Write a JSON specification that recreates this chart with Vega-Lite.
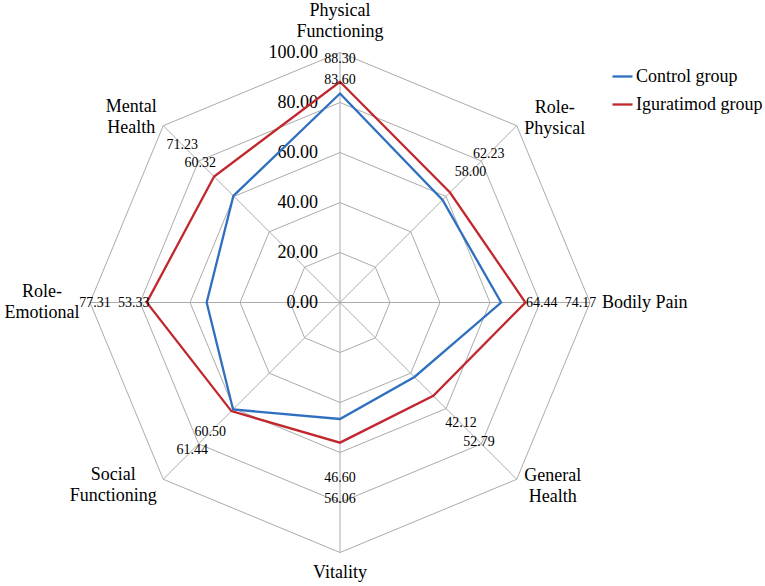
{
  "$schema": "https://vega.github.io/schema/vega-lite/v6.json",
  "width": 765,
  "height": 586,
  "padding": 0,
  "autosize": {"type": "none"},
  "config": {
    "view": {"stroke": null},
    "font": "Liberation Serif, Times New Roman, serif",
    "text": {"font": "Liberation Serif, Times New Roman, serif", "color": "#000000"}
  },
  "datasets": {
    "scores": [
      {"axis": "Physical Functioning", "k": 0, "group": "Control group", "value": 83.60},
      {"axis": "Role-Physical", "k": 1, "group": "Control group", "value": 58.00},
      {"axis": "Bodily Pain", "k": 2, "group": "Control group", "value": 64.44},
      {"axis": "General Health", "k": 3, "group": "Control group", "value": 42.12},
      {"axis": "Vitality", "k": 4, "group": "Control group", "value": 46.60},
      {"axis": "Social Functioning", "k": 5, "group": "Control group", "value": 60.50},
      {"axis": "Role-Emotional", "k": 6, "group": "Control group", "value": 53.33},
      {"axis": "Mental Health", "k": 7, "group": "Control group", "value": 60.32},
      {"axis": "Physical Functioning", "k": 0, "group": "Iguratimod group", "value": 88.30},
      {"axis": "Role-Physical", "k": 1, "group": "Iguratimod group", "value": 62.23},
      {"axis": "Bodily Pain", "k": 2, "group": "Iguratimod group", "value": 74.17},
      {"axis": "General Health", "k": 3, "group": "Iguratimod group", "value": 52.79},
      {"axis": "Vitality", "k": 4, "group": "Iguratimod group", "value": 56.06},
      {"axis": "Social Functioning", "k": 5, "group": "Iguratimod group", "value": 61.44},
      {"axis": "Role-Emotional", "k": 6, "group": "Iguratimod group", "value": 77.31},
      {"axis": "Mental Health", "k": 7, "group": "Iguratimod group", "value": 71.23}
    ],
    "axes": [
      {"k": 0, "label": "Physical\nFunctioning"},
      {"k": 1, "label": "Role-\nPhysical"},
      {"k": 2, "label": "Bodily Pain"},
      {"k": 3, "label": "General\nHealth"},
      {"k": 4, "label": "Vitality"},
      {"k": 5, "label": "Social\nFunctioning"},
      {"k": 6, "label": "Role-\nEmotional"},
      {"k": 7, "label": "Mental\nHealth"}
    ],
    "levels": [
      {"level": 0, "k": [0, 1, 2, 3, 4, 5, 6, 7]},
      {"level": 20, "k": [0, 1, 2, 3, 4, 5, 6, 7]},
      {"level": 40, "k": [0, 1, 2, 3, 4, 5, 6, 7]},
      {"level": 60, "k": [0, 1, 2, 3, 4, 5, 6, 7]},
      {"level": 80, "k": [0, 1, 2, 3, 4, 5, 6, 7]},
      {"level": 100, "k": [0, 1, 2, 3, 4, 5, 6, 7]}
    ]
  },
  "encoding": {
    "x": {"field": "px", "type": "quantitative", "axis": null, "scale": {"domain": [-136, 170], "nice": false, "zero": false}},
    "y": {"field": "py", "type": "quantitative", "axis": null, "scale": {"domain": [-113.4, 121], "nice": false, "zero": false}}
  },
  "layer": [
    {
      "data": {"name": "levels"},
      "transform": [
        {"filter": "datum.level > 0"},
        {"flatten": ["k"]},
        {"calculate": "datum.k * PI / 4", "as": "angle"},
        {"calculate": "datum.level * sin(datum.angle)", "as": "px"},
        {"calculate": "datum.level * cos(datum.angle)", "as": "py"}
      ],
      "mark": {"type": "line", "interpolate": "linear-closed", "color": "#ABABAB", "strokeWidth": 1},
      "encoding": {
        "detail": {"field": "level", "type": "nominal"},
        "order": {"field": "k", "type": "quantitative"}
      }
    },
    {
      "data": {"name": "axes"},
      "transform": [
        {"calculate": "datum.k * PI / 4", "as": "angle"},
        {"calculate": "100 * sin(datum.angle)", "as": "px"},
        {"calculate": "100 * cos(datum.angle)", "as": "py"},
        {"calculate": "0", "as": "ox"},
        {"calculate": "0", "as": "oy"}
      ],
      "mark": {"type": "rule", "color": "#ABABAB", "strokeWidth": 1},
      "encoding": {
        "x2": {"field": "ox"},
        "y2": {"field": "oy"}
      }
    },
    {
      "data": {"name": "levels"},
      "transform": [
        {"calculate": "0", "as": "px"},
        {"calculate": "datum.level", "as": "py"}
      ],
      "mark": {"type": "text", "align": "right", "baseline": "middle", "dx": -22, "fontSize": 18},
      "encoding": {
        "text": {"field": "level", "type": "quantitative", "format": ".2f"}
      }
    },
    {
      "data": {"name": "scores"},
      "transform": [
        {"calculate": "datum.k * PI / 4", "as": "angle"},
        {"calculate": "datum.value * sin(datum.angle)", "as": "px"},
        {"calculate": "datum.value * cos(datum.angle)", "as": "py"}
      ],
      "mark": {"type": "line", "interpolate": "linear-closed", "strokeWidth": 2.3},
      "encoding": {
        "color": {
          "field": "group", "type": "nominal",
          "scale": {"domain": ["Control group", "Iguratimod group"], "range": ["#2F6FBF", "#C0282E"]},
          "legend": {
            "title": null, "orient": "none", "legendX": 611, "legendY": 65,
            "labelFont": "Liberation Serif, Times New Roman, serif", "labelFontSize": 18, "labelColor": "#000000",
            "labelLimit": 300, "symbolType": "stroke", "symbolSize": 400, "symbolStrokeWidth": 2.3,
            "labelOffset": 2, "rowPadding": 7
          }
        },
        "order": {"field": "k", "type": "quantitative"}
      }
    },
    {
      "data": {"name": "scores"},
      "transform": [
        {"joinaggregate": [{"op": "max", "field": "value", "as": "vmax"}], "groupby": ["k"]},
        {"calculate": "datum.k * PI / 4", "as": "angle"},
        {"calculate": "38 + 0.576 * datum.vmax + (datum.group == 'Iguratimod group' ? 8.5 + 7 * pow(sin(datum.angle), 4) : 0)", "as": "lr"},
        {"calculate": "datum.lr * sin(datum.angle)", "as": "px"},
        {"calculate": "datum.lr * cos(datum.angle)", "as": "py"}
      ],
      "mark": {"type": "text", "align": "center", "baseline": "middle", "fontSize": 14},
      "encoding": {
        "text": {"field": "value", "type": "quantitative", "format": ".2f"}
      }
    },
    {
      "data": {"name": "axes"},
      "transform": [
        {"filter": "datum.k == 0"},
        {"calculate": "0", "as": "px"},
        {"calculate": "100", "as": "py"}
      ],
      "mark": {"type": "text", "align": "center", "baseline": "middle", "fontSize": 18, "lineBreak": "\n", "lineHeight": 21, "dy": -41.5},
      "encoding": {"text": {"field": "label", "type": "nominal"}}
    },
    {
      "data": {"name": "axes"},
      "transform": [
        {"filter": "datum.k == 1"},
        {"calculate": "100 * sin(datum.k * PI / 4)", "as": "px"},
        {"calculate": "100 * cos(datum.k * PI / 4)", "as": "py"}
      ],
      "mark": {"type": "text", "align": "center", "baseline": "middle", "fontSize": 18, "lineBreak": "\n", "lineHeight": 21, "dx": 38, "dy": -18},
      "encoding": {"text": {"field": "label", "type": "nominal"}}
    },
    {
      "data": {"name": "axes"},
      "transform": [
        {"filter": "datum.k == 2"},
        {"calculate": "100", "as": "px"},
        {"calculate": "0", "as": "py"}
      ],
      "mark": {"type": "text", "align": "left", "baseline": "middle", "fontSize": 18, "lineBreak": "\n", "lineHeight": 21, "dx": 12},
      "encoding": {"text": {"field": "label", "type": "nominal"}}
    },
    {
      "data": {"name": "axes"},
      "transform": [
        {"filter": "datum.k == 3"},
        {"calculate": "100 * sin(datum.k * PI / 4)", "as": "px"},
        {"calculate": "100 * cos(datum.k * PI / 4)", "as": "py"}
      ],
      "mark": {"type": "text", "align": "center", "baseline": "middle", "fontSize": 18, "lineBreak": "\n", "lineHeight": 21, "dx": 36, "dy": -3},
      "encoding": {"text": {"field": "label", "type": "nominal"}}
    },
    {
      "data": {"name": "axes"},
      "transform": [
        {"filter": "datum.k == 4"},
        {"calculate": "0", "as": "px"},
        {"calculate": "-100", "as": "py"}
      ],
      "mark": {"type": "text", "align": "center", "baseline": "middle", "fontSize": 18, "lineBreak": "\n", "lineHeight": 21, "dy": 20.5},
      "encoding": {"text": {"field": "label", "type": "nominal"}}
    },
    {
      "data": {"name": "axes"},
      "transform": [
        {"filter": "datum.k == 5"},
        {"calculate": "100 * sin(datum.k * PI / 4)", "as": "px"},
        {"calculate": "100 * cos(datum.k * PI / 4)", "as": "py"}
      ],
      "mark": {"type": "text", "align": "center", "baseline": "middle", "fontSize": 18, "lineBreak": "\n", "lineHeight": 21, "dx": -50, "dy": -4},
      "encoding": {"text": {"field": "label", "type": "nominal"}}
    },
    {
      "data": {"name": "axes"},
      "transform": [
        {"filter": "datum.k == 6"},
        {"calculate": "-100", "as": "px"},
        {"calculate": "0", "as": "py"}
      ],
      "mark": {"type": "text", "align": "center", "baseline": "middle", "fontSize": 18, "lineBreak": "\n", "lineHeight": 21, "dx": -48, "dy": -10.5},
      "encoding": {"text": {"field": "label", "type": "nominal"}}
    },
    {
      "data": {"name": "axes"},
      "transform": [
        {"filter": "datum.k == 7"},
        {"calculate": "100 * sin(datum.k * PI / 4)", "as": "px"},
        {"calculate": "100 * cos(datum.k * PI / 4)", "as": "py"}
      ],
      "mark": {"type": "text", "align": "center", "baseline": "middle", "fontSize": 18, "lineBreak": "\n", "lineHeight": 21, "dx": -32, "dy": -19},
      "encoding": {"text": {"field": "label", "type": "nominal"}}
    }
  ]
}
